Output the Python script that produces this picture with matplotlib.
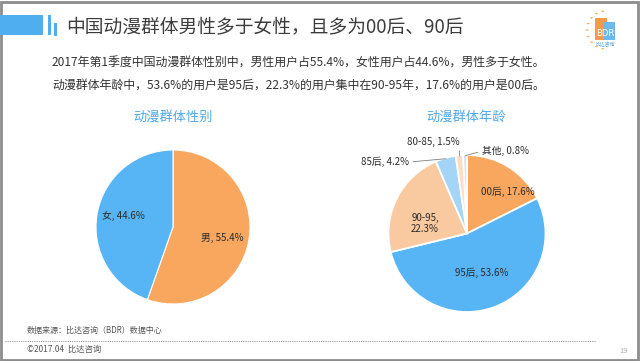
"""BDR slide: gender and age split of China's anime audience, 2017 Q1."""

import numpy as np
import matplotlib
matplotlib.use("Agg")
import matplotlib.pyplot as plt
from matplotlib.patches import Rectangle, Circle
from matplotlib.lines import Line2D

plt.rcParams["font.family"] = ["Noto Sans CJK SC", "DejaVu Sans"]

W, H = 640, 361
PAD = 1.45

# data
gender_labels = ["男", "女"]
gender_values = [55.4, 44.6]
age_labels = ["00后", "95后", "90-95", "85后", "80-85", "其他"]
age_values = [17.6, 53.6, 22.3, 4.2, 1.5, 0.8]

title = "中国动漫群体男性多于女性，且多为00后、90后"
subtitle_lines = [
    "2017年第1季度中国动漫群体性别中，男性用户占55.4%，女性用户占44.6%，男性多于女性。",
    "动漫群体年龄中，53.6%的用户是95后，22.3%的用户集中在90-95年，17.6%的用户是00后。",
]

ORANGE = "#F9A75E"
BLUE = "#58B5F5"
gender_colors = [ORANGE, BLUE]
age_colors = [ORANGE, BLUE, "#F9C9A0", "#A5D5F6", "#FBDDC6", "#D8E0E8"]
HEAD_BLUE = "#4FAEF0"
TEXT = "#2b2b2b"


def fx(x):
    return x / W


def fy(y):
    return 1 - y / H


def pie_axes(fig, cx, cy, r):
    """Square axes whose unit circle lands at pixel centre (cx, cy) with radius r."""
    half = r * PAD
    ax = fig.add_axes([fx(cx - half), fy(cy + half), 2 * half / W, 2 * half / H])
    ax.axis("off")
    return ax


def fix_limits(ax):
    # pie() resets the limits to +-1.25, so set them afterwards
    ax.set_xlim(-PAD, PAD)
    ax.set_ylim(-PAD, PAD)


def polar(r, deg):
    a = np.deg2rad(deg)
    return r * np.cos(a), r * np.sin(a)


fig = plt.figure(figsize=(W / 100, H / 100), dpi=100)
fig.patch.set_facecolor("white")

# slide frame
fig.patches.append(Rectangle((0.002, 0.004), 0.995, 0.99, transform=fig.transFigure,
                             fill=False, edgecolor="#8c8c8c", linewidth=2))

# header bars
for x0, x1, y0, y1 in [(0, 43, 15, 35), (48, 51, 15, 35), (54, 57, 23, 36)]:
    fig.patches.append(Rectangle((fx(x0), fy(y1)), (x1 - x0) / W, (y1 - y0) / H,
                                 transform=fig.transFigure, color=HEAD_BLUE, lw=0))
fig.text(fx(66), fy(27), title, fontsize=13.5, color="#3c3c3c", va="center", ha="left")

for i, line in enumerate(subtitle_lines):
    fig.text(fx(52), fy(63 + 22 * i), line, fontsize=8.6, color="#333333",
             va="center", ha="left")

# BDR logo (rough)
for k in range(9):
    ang = np.deg2rad(100 + k * 20)
    fig.patches.append(Circle((fx(606 + 19 * np.cos(ang)), fy(30 - 19 * np.sin(ang))), 0.0022,
                              transform=fig.transFigure, color="#F6B36B", lw=0))
fig.patches.append(Rectangle((fx(595), fy(40)), 12 / W, 22 / H, transform=fig.transFigure,
                             color="#F39A4C", lw=0))
fig.patches.append(Rectangle((fx(604), fy(40)), 11 / W, 18 / H, transform=fig.transFigure,
                             color="#6BB8EE", lw=0))
fig.text(fx(605), fy(34), "BDR", fontsize=6, color="white", ha="center", va="center",
         family=["DejaVu Sans"])
fig.text(fx(605), fy(45), "比达咨询", fontsize=3.5, color="#4FA3E0", ha="center", va="center")

# pie titles
fig.text(fx(173), fy(118), "动漫群体性别", fontsize=9.5, color="#4FA8E8", ha="center", va="center")
fig.text(fx(466), fy(118), "动漫群体年龄", fontsize=9.5, color="#4FA8E8", ha="center", va="center")

# left pie: gender
ax1 = pie_axes(fig, 173, 227, 77)
wedges1, _ = ax1.pie(gender_values, colors=gender_colors, startangle=90, counterclock=False,
                     radius=1, wedgeprops=dict(edgecolor="white", linewidth=0.8))
fix_limits(ax1)
for w, lab, val in zip(wedges1, gender_labels, gender_values):
    mid = (w.theta1 + w.theta2) / 2
    x, y = polar(0.66, mid - 3)
    ax1.text(x, y, f"{lab}, {val}%", fontsize=7, color=TEXT, ha="center", va="center")

# right pie: age
ax2 = pie_axes(fig, 467, 233.5, 78.5)
wedges2, _ = ax2.pie(age_values, colors=age_colors, startangle=90, counterclock=False,
                     radius=1, wedgeprops=dict(edgecolor="white", linewidth=1.3))
fix_limits(ax2)

# inside labels: (radius, angle shift)
inside = {"00后": (0.74, -13), "95后": (0.53, 1), "90-95": (0.55, 13)}
# outside labels: (text x, text y, ha, relpos)
outside = {
    "85后": (-0.74, 0.91, "right", (1, 0.5)),
    "80-85": (-0.43, 1.17, "center", (1, 0)),
    "其他": (0.19, 1.05, "left", (0, 0.5)),
}
for w, lab, val in zip(wedges2, age_labels, age_values):
    mid = (w.theta1 + w.theta2) / 2
    if lab in inside:
        r, shift = inside[lab]
        x, y = polar(r, mid + shift)
        text = f"{lab},\n{val}%" if lab == "90-95" else f"{lab}, {val}%"
        ax2.text(x, y, text, fontsize=7, color=TEXT, ha="center", va="center",
                 linespacing=1.1)
    else:
        tx, ty, ha, rel = outside[lab]
        ax2.annotate(f"{lab}, {val}%", xy=polar(0.99, mid), xytext=(tx, ty),
                     fontsize=7, color=TEXT, ha=ha, va="center",
                     arrowprops=dict(arrowstyle="-", color="#808080", lw=0.6,
                                     relpos=rel, shrinkA=1, shrinkB=0))

# footer
fig.text(fx(27), fy(330), "数据来源：比达咨询（BDR）数据中心", fontsize=5.8, color="#555555",
         ha="left", va="center")
fig.lines.append(Line2D([fx(5), fx(595)], [fy(341), fy(341)], transform=fig.transFigure,
                        color="#9a9a9a", lw=0.8, linestyle=(0, (1, 1))))
fig.text(fx(27), fy(349), "©2017.04  比达咨询", fontsize=6, color="#555555",
         ha="left", va="center")
fig.text(fx(628), fy(351), "19", fontsize=5.5, color="#b0b0b0", ha="right", va="center")

fig.savefig("out.png", dpi=100)
